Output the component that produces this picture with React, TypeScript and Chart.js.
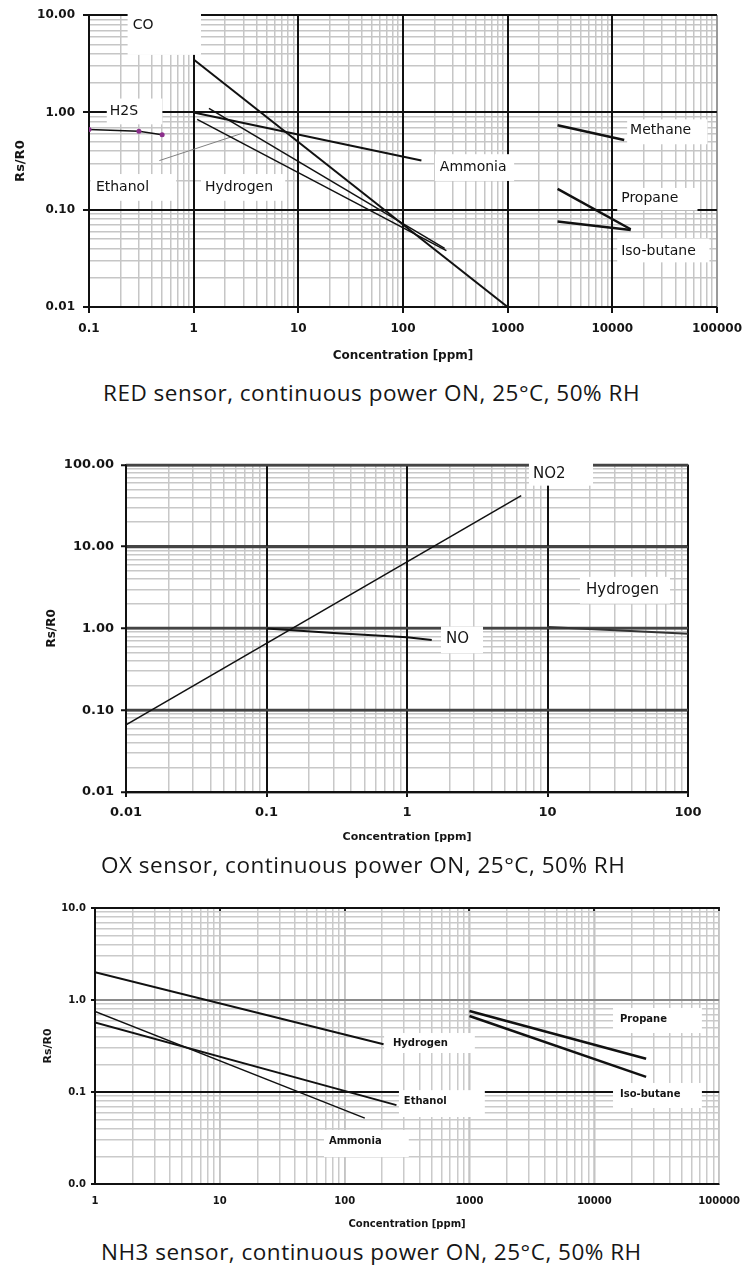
import React, { useEffect, useRef } from 'react';
import { Chart, registerables } from 'chart.js';

Chart.register(...registerables);

// ---------------- RED sensor ----------------
const redXTickValues = [0.1, 1, 10, 100, 1000, 10000, 100000];
const redXTickLabels = ['0.1', '1', '10', '100', '1000', '10000', '100000'];
const redYTickValues = [0.01, 0.1, 1, 10];
const redYTickLabels = ['0.01', '0.10', '1.00', '10.00'];

const redCOx = [1, 1000];
const redCOy = [3.5, 0.01];
const redH2Sx = [0.1, 0.3, 0.5];
const redH2Sy = [0.67, 0.64, 0.59];
const redAmmoniaX = [1, 150];
const redAmmoniaY = [1.0, 0.32];
const redHydrogenX = [1.4, 250];
const redHydrogenY = [1.1, 0.04];
const redEthanolX = [1.08, 260];
const redEthanolY = [0.85, 0.038];
const redEthanolLeaderX = [0.47, 2.9];
const redEthanolLeaderY = [0.32, 0.61];
const redMethaneX = [3000, 13000];
const redMethaneY = [0.74, 0.52];
const redPropaneX = [3000, 15000];
const redPropaneY = [0.164, 0.063];
const redIsobutaneX = [3000, 15000];
const redIsobutaneY = [0.0755, 0.062];

// ---------------- OX sensor ----------------
const oxXTickValues = [0.01, 0.1, 1, 10, 100];
const oxXTickLabels = ['0.01', '0.1', '1', '10', '100'];
const oxYTickValues = [0.01, 0.1, 1, 10, 100];
const oxYTickLabels = ['0.01', '0.10', '1.00', '10.00', '100.00'];

const oxNO2x = [0.01, 6.5];
const oxNO2y = [0.066, 42];
const oxNOx = [0.1, 0.3, 1, 1.5];
const oxNOy = [1.0, 0.88, 0.78, 0.72];
const oxHydrogenX = [10, 100];
const oxHydrogenY = [1.04, 0.86];

// ---------------- NH3 sensor ----------------
const nh3XTickValues = [1, 10, 100, 1000, 10000, 100000];
const nh3XTickLabels = ['1', '10', '100', '1000', '10000', '100000'];
const nh3YTickValues = [0.01, 0.1, 1, 10];
const nh3YTickLabels = ['0.0', '0.1', '1.0', '10.0'];

const nh3HydrogenX = [1, 205];
const nh3HydrogenY = [2.0, 0.33];
const nh3EthanolX = [1, 260];
const nh3EthanolY = [0.57, 0.072];
const nh3AmmoniaX = [1, 145];
const nh3AmmoniaY = [0.75, 0.052];
const nh3PropaneX = [1000, 26000];
const nh3PropaneY = [0.76, 0.23];
const nh3IsobutaneX = [1000, 26000];
const nh3IsobutaneY = [0.67, 0.146];

// ---------------- helpers ----------------
function isMajor(v: number) {
  const l = Math.log10(v);
  return Math.abs(l - Math.round(l)) < 1e-6;
}
function decadeTicks(min: number, max: number) {
  const out: number[] = [];
  const e0 = Math.round(Math.log10(min));
  const e1 = Math.round(Math.log10(max));
  for (let e = e0; e < e1; e++) {
    for (let s = 1; s <= 9; s++) out.push(parseFloat((s * Math.pow(10, e)).toPrecision(6)));
  }
  out.push(max);
  return out;
}
function labelFor(values: number[], labels: string[]) {
  return (v: any) => {
    const n = Number(v);
    const i = values.findIndex((t) => Math.abs(Math.log10(t) - Math.log10(n)) < 1e-6);
    return i >= 0 ? labels[i] : '';
  };
}

type Series = { x: number[]; y: number[]; width: number; color?: string; pointColor?: string; pointRadius?: number };
type Label = { text: string; t: [number, number]; box: [number, number, number, number] };

type Panel = {
  top: number; height: number; padTop: number; padRight: number;
  yAxisWidth: number; xAxisHeight: number;
  xMin: number; xMax: number; yMin: number; yMax: number;
  xTicks: number[]; xLabels: string[]; yTicks: number[]; yLabels: string[];
  tickFont: number; xTickLen: number; yTickLen: number; xTickPad: number; yTickPad: number;
  xTitleFont: number; xTitlePad: number; yTitleFont: number; yTitlePad: number;
  xMajor: string; yMajor: string; xMajorW: number; yMajorW: number; minor: string; minorW: number;
  xMaxColor?: string; yMajorColors?: Record<string, string>; topTicks?: boolean;
  series: Series[]; labels: Label[]; labelFont: number; labelWeight: string;
};

const redPanel: Panel = {
  top: 0, height: 370, padTop: 13, padRight: 28, yAxisWidth: 89, xAxisHeight: 63,
  xMin: 0.1, xMax: 100000, yMin: 0.01, yMax: 10,
  xTicks: redXTickValues, xLabels: redXTickLabels, yTicks: redYTickValues, yLabels: redYTickLabels,
  tickFont: 12, xTickLen: 6, yTickLen: 6, xTickPad: 9, yTickPad: 8,
  xTitleFont: 12, xTitlePad: 7, yTitleFont: 13, yTitlePad: 13,
  xMajor: '#111', yMajor: '#111', xMajorW: 2, yMajorW: 2, minor: '#c6c6c6', minorW: 1.5,
  xMaxColor: '#9a9a9a',
  series: [
    { x: redCOx, y: redCOy, width: 2 },
    { x: redH2Sx, y: redH2Sy, width: 1.5, pointColor: '#8b2f8b', pointRadius: 2.5 },
    { x: redAmmoniaX, y: redAmmoniaY, width: 2 },
    { x: redHydrogenX, y: redHydrogenY, width: 1.5 },
    { x: redEthanolX, y: redEthanolY, width: 1.5 },
    { x: redEthanolLeaderX, y: redEthanolLeaderY, width: 1, color: '#808080' },
    { x: redMethaneX, y: redMethaneY, width: 2.5 },
    { x: redPropaneX, y: redPropaneY, width: 2.5 },
    { x: redIsobutaneX, y: redIsobutaneY, width: 2.5 },
  ],
  labels: [
    { text: 'CO', t: [-0.583, 0.898], box: [-0.631, 0.07, 0.592, 1.02] },
    { text: 'H2S', t: [-0.801, 0.01], box: [-0.83, -0.299, -0.122, 0.143] },
    { text: 'Ethanol', t: [-0.934, -0.765], box: [-0.985, -0.167, -0.908, -0.633] },
    { text: 'Hydrogen', t: [0.108, -0.765], box: [0.07, 0.875, -0.908, -0.633] },
    { text: 'Ammonia', t: [2.352, -0.561], box: [2.305, 3.062, -0.704, -0.429] },
    { text: 'Methane', t: [4.17, -0.184], box: [4.142, 4.909, -0.327, -0.071] },
    { text: 'Propane', t: [4.085, -0.878], box: [4.047, 4.814, -1.01, -0.776] },
    { text: 'Iso-butane', t: [4.085, -1.429], box: [4.047, 4.928, -1.541, -1.296] },
  ],
  labelFont: 14, labelWeight: 'normal',
};

const oxPanel: Panel = {
  top: 450, height: 400, padTop: 12, padRight: 63, yAxisWidth: 126, xAxisHeight: 58,
  xMin: 0.01, xMax: 100, yMin: 0.01, yMax: 100,
  xTicks: oxXTickValues, xLabels: oxXTickLabels, yTicks: oxYTickValues, yLabels: oxYTickLabels,
  tickFont: 13, xTickLen: 5, yTickLen: 5, xTickPad: 8, yTickPad: 7,
  xTitleFont: 11, xTitlePad: 6, yTitleFont: 12, yTitlePad: 45,
  xMajor: '#111', yMajor: '#444', xMajorW: 2, yMajorW: 2.5, minor: '#c8c8c8', minorW: 1.5,
  series: [
    { x: oxNO2x, y: oxNO2y, width: 1.5 },
    { x: oxNOx, y: oxNOy, width: 2 },
    { x: oxHydrogenX, y: oxHydrogenY, width: 2, color: '#333' },
  ],
  labels: [
    { text: 'NO2', t: [0.897, 1.891], box: [0.868, 1.324, 1.745, 2.03] },
    { text: 'Hydrogen', t: [1.274, 0.473], box: [1.231, 1.872, 0.303, 0.63] },
    { text: 'NO', t: [0.278, -0.133], box: [0.242, 0.541, -0.303, 0.024] },
  ],
  labelFont: 15, labelWeight: 'normal',
};

const nh3Panel: Panel = {
  top: 895, height: 340, padTop: 13, padRight: 24, yAxisWidth: 95, xAxisHeight: 51,
  xMin: 1, xMax: 100000, yMin: 0.01, yMax: 10,
  xTicks: nh3XTickValues, xLabels: nh3XTickLabels, yTicks: nh3YTickValues, yLabels: nh3YTickLabels,
  tickFont: 10, xTickLen: 0, yTickLen: 4, xTickPad: 11, yTickPad: 5,
  xTitleFont: 10, xTitlePad: 5, yTitleFont: 11, yTitlePad: 42,
  xMajor: '#c4c4c4', yMajor: '#111', xMajorW: 1.5, yMajorW: 2, minor: '#cacaca', minorW: 1.5,
  yMajorColors: { '1': '#8a8a8a' }, topTicks: true,
  series: [
    { x: nh3HydrogenX, y: nh3HydrogenY, width: 2 },
    { x: nh3EthanolX, y: nh3EthanolY, width: 1.8 },
    { x: nh3AmmoniaX, y: nh3AmmoniaY, width: 1.5 },
    { x: nh3PropaneX, y: nh3PropaneY, width: 2.5 },
    { x: nh3IsobutaneX, y: nh3IsobutaneY, width: 2.5 },
  ],
  labels: [
    { text: 'Hydrogen', t: [2.387, -0.467], box: [2.316, 3.043, -0.576, -0.359] },
    { text: 'Ethanol', t: [2.474, -1.098], box: [2.435, 3.123, -1.272, -0.98] },
    { text: 'Ammonia', t: [1.874, -1.533], box: [1.834, 2.514, -1.707, -1.413] },
    { text: 'Propane', t: [4.206, -0.207], box: [4.15, 4.862, -0.359, -0.087] },
    { text: 'Iso-butane', t: [4.206, -1.022], box: [4.15, 4.862, -1.174, -0.902] },
  ],
  labelFont: 10, labelWeight: 'bold',
};

const FONT = 'DejaVu Sans';

function majorColor(p: Panel, axis: 'x' | 'y', v: number) {
  if (axis === 'x') {
    if (p.xMaxColor && Math.abs(Math.log10(v) - Math.log10(p.xMax)) < 1e-6) return p.xMaxColor;
    return p.xMajor;
  }
  const k = String(Math.pow(10, Math.round(Math.log10(v))));
  if (p.yMajorColors && p.yMajorColors[k]) return p.yMajorColors[k];
  return p.yMajor;
}

function ChartPanel({ p }: { p: Panel }) {
  const ref = useRef<HTMLCanvasElement>(null);
  useEffect(() => {
    const canvas = ref.current;
    if (!canvas) return;

    const overlay = {
      id: 'overlay',
      beforeDatasetsDraw(chart: any) {
        const { ctx, chartArea: a, scales } = chart;
        const xs = scales.x;
        const ys = scales.y;
        ctx.save();
        // major lines on top of minor lines
        for (const t of xs.ticks) {
          if (!isMajor(t.value)) continue;
          if (Math.abs(Math.log10(t.value) - Math.log10(p.xMin)) < 1e-6) continue;
          const px = Math.round(xs.getPixelForValue(t.value));
          ctx.strokeStyle = majorColor(p, 'x', t.value);
          ctx.lineWidth = p.xMajorW;
          ctx.beginPath();
          ctx.moveTo(px, a.top);
          ctx.lineTo(px, a.bottom);
          ctx.stroke();
          if (p.topTicks) {
            ctx.strokeStyle = '#222';
            ctx.lineWidth = 2;
            ctx.beginPath();
            ctx.moveTo(px, a.top - 1);
            ctx.lineTo(px, a.top + 3);
            ctx.stroke();
          }
        }
        for (const t of ys.ticks) {
          if (!isMajor(t.value)) continue;
          if (Math.abs(Math.log10(t.value) - Math.log10(p.yMin)) < 1e-6) continue;
          const py = Math.round(ys.getPixelForValue(t.value));
          ctx.strokeStyle = majorColor(p, 'y', t.value);
          ctx.lineWidth = p.yMajorW;
          ctx.beginPath();
          ctx.moveTo(a.left, py);
          ctx.lineTo(a.right, py);
          ctx.stroke();
        }
        // axis lines
        ctx.strokeStyle = '#111';
        ctx.lineWidth = 2;
        ctx.beginPath();
        ctx.moveTo(a.left, a.top);
        ctx.lineTo(a.left, a.bottom);
        ctx.lineTo(a.right, a.bottom);
        ctx.stroke();
        // label boxes and texts
        ctx.fillStyle = '#ffffff';
        for (const l of p.labels) {
          const x1 = xs.getPixelForValue(Math.pow(10, l.box[0]));
          const x2 = xs.getPixelForValue(Math.pow(10, l.box[1]));
          const y1 = ys.getPixelForValue(Math.pow(10, l.box[2]));
          const y2 = ys.getPixelForValue(Math.pow(10, l.box[3]));
          ctx.fillRect(x1, y2, x2 - x1, y1 - y2);
        }
        ctx.fillStyle = '#141414';
        ctx.font = `${p.labelWeight} ${p.labelFont}px "${FONT}"`;
        ctx.textAlign = 'left';
        ctx.textBaseline = 'middle';
        for (const l of p.labels) {
          const tx = xs.getPixelForValue(Math.pow(10, l.t[0]));
          const ty = ys.getPixelForValue(Math.pow(10, l.t[1]));
          ctx.fillText(l.text, tx, ty);
        }
        ctx.restore();
      },
    };

    const gridFor = (axis: 'x' | 'y') => ({
      color: (c: any) => {
        const v = c.tick ? c.tick.value : NaN;
        if (!isFinite(v)) return p.minor;
        return isMajor(v) ? majorColor(p, axis, v) : p.minor;
      },
      lineWidth: (c: any) => {
        const v = c.tick ? c.tick.value : NaN;
        if (!isFinite(v)) return p.minorW;
        return isMajor(v) ? (axis === 'x' ? p.xMajorW : p.yMajorW) : p.minorW;
      },
      tickColor: (c: any) => {
        const v = c.tick ? c.tick.value : NaN;
        return isFinite(v) && isMajor(v) ? '#111' : 'rgba(0,0,0,0)';
      },
      tickLength: axis === 'x' ? p.xTickLen : p.yTickLen,
      drawTicks: (axis === 'x' ? p.xTickLen : p.yTickLen) > 0,
      tickWidth: 2,
    });

    const chart = new Chart(canvas, {
      type: 'scatter',
      data: {
        datasets: p.series.map((s) => ({
          data: s.x.map((x, i) => ({ x, y: s.y[i] })),
          showLine: true,
          borderColor: s.color || '#111',
          borderWidth: s.width,
          pointRadius: s.pointRadius || 0,
          pointBackgroundColor: s.pointColor || '#111',
          pointBorderWidth: 0,
          tension: 0,
        })),
      },
      options: {
        responsive: false,
        animation: false,
        devicePixelRatio: 1,
        events: [],
        layout: { padding: { top: p.padTop, right: p.padRight, left: 0, bottom: 0 } },
        plugins: { legend: { display: false }, tooltip: { enabled: false }, title: { display: false } },
        scales: {
          x: {
            type: 'logarithmic',
            min: p.xMin,
            max: p.xMax,
            afterBuildTicks: (s: any) => {
              s.ticks = decadeTicks(p.xMin, p.xMax).map((v) => ({ value: v, major: isMajor(v) }));
            },
            afterFit: (s: any) => {
              s.height = p.xAxisHeight;
            },
            ticks: {
              autoSkip: false,
              maxRotation: 0,
              minRotation: 0,
              padding: p.xTickPad,
              color: '#151515',
              font: { family: FONT, size: p.tickFont, weight: 'bold' },
              callback: labelFor(p.xTicks, p.xLabels),
            },
            grid: gridFor('x'),
            border: { display: true, color: '#111', width: 2 },
            title: {
              display: true,
              text: 'Concentration [ppm]',
              color: '#151515',
              font: { family: FONT, size: p.xTitleFont, weight: 'bold' },
              padding: { top: 0, bottom: p.xTitlePad },
            },
          },
          y: {
            type: 'logarithmic',
            min: p.yMin,
            max: p.yMax,
            afterBuildTicks: (s: any) => {
              s.ticks = decadeTicks(p.yMin, p.yMax).map((v) => ({ value: v, major: isMajor(v) }));
            },
            afterFit: (s: any) => {
              s.width = p.yAxisWidth;
            },
            ticks: {
              autoSkip: false,
              padding: p.yTickPad,
              color: '#151515',
              font: { family: FONT, size: p.tickFont, weight: 'bold' },
              callback: labelFor(p.yTicks, p.yLabels),
            },
            grid: gridFor('y'),
            border: { display: true, color: '#111', width: 2 },
            title: {
              display: true,
              text: 'Rs/R0',
              color: '#151515',
              font: { family: FONT, size: p.yTitleFont, weight: 'bold' },
              padding: { top: p.yTitlePad, bottom: 0 },
            },
          },
        },
      } as any,
      plugins: [overlay as any],
    });
    return () => chart.destroy();
  }, [p]);
  return (
    <canvas
      ref={ref}
      width={751}
      height={p.height}
      style={{ position: 'absolute', left: 0, top: p.top, width: 751, height: p.height }}
    />
  );
}

const captionStyle: React.CSSProperties = {
  position: 'absolute',
  left: 101,
  fontFamily: '"Open Sans", "Noto Sans", sans-serif',
  fontSize: 22.5,
  letterSpacing: '0.5px',
  lineHeight: '24px',
  color: '#161616',
  whiteSpace: 'nowrap',
};

export default function App() {
  return (
    <div style={{ position: 'absolute', left: 0, top: 0, width: 751, height: 1271, background: '#fff', overflow: 'hidden' }}>
      <ChartPanel p={redPanel} />
      <div style={{ ...captionStyle, top: 381, left: 103 }}>RED sensor, continuous power ON, 25°C, 50% RH</div>
      <ChartPanel p={oxPanel} />
      <div style={{ ...captionStyle, top: 853 }}>OX sensor, continuous power ON, 25°C, 50% RH</div>
      <ChartPanel p={nh3Panel} />
      <div style={{ ...captionStyle, top: 1240 }}>NH3 sensor, continuous power ON, 25°C, 50% RH</div>
    </div>
  );
}
